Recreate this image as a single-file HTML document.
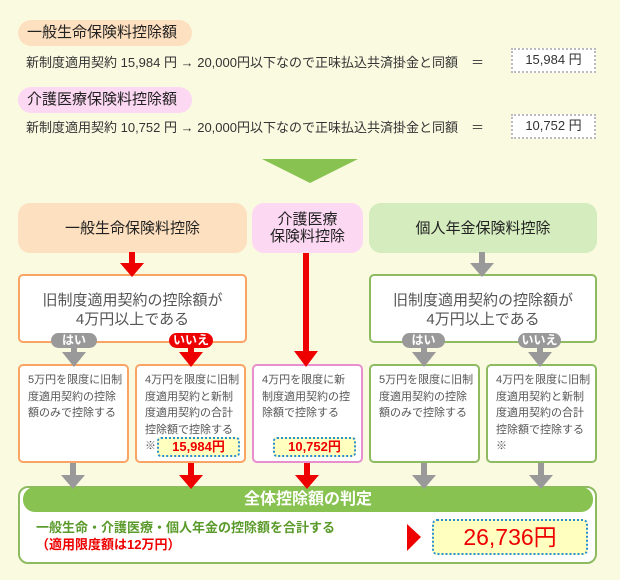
<!DOCTYPE html>
<html><head><meta charset="utf-8"><style>
*{margin:0;padding:0;box-sizing:border-box}
body{width:620px;height:580px;background:#fafae1;position:relative;overflow:hidden;font-family:"Liberation Sans","Noto Sans CJK JP",sans-serif;color:#333}
.a{position:absolute}
.pill{border-radius:13px;font-size:15px;color:#222;padding-left:9px;line-height:26px}
.line{font-size:13px;color:#333;white-space:nowrap}
.vb{background:#fff;border:2px dotted #bbb;font-size:13px;text-align:center;line-height:20px}
.hd{border-radius:12px;font-size:15px;color:#222;text-align:center;display:flex;align-items:center;justify-content:center;line-height:17px}
.q{background:#fff;border:2px solid;border-radius:5px;font-size:15px;color:#555;text-align:center;line-height:19px;padding-top:15px}
.yn{border-radius:8px;color:#fff;font-size:12px;font-weight:bold;text-align:center;line-height:15px}
.bx{background:#fff;border:2px solid;border-radius:5px;font-size:11px;color:#555;line-height:16.5px;padding:6px 0 0 8px}
.val{background:#ffffc0;border:2px dotted #2a8fd0;border-radius:4px;color:#e00;font-weight:bold;font-size:13px;text-align:center;line-height:16px}
</style></head><body>
<div class="a pill" style="left:18px;top:20px;width:174px;height:26px;background:#fde0c0">一般生命保険料控除額</div>
<div class="a line" style="left:26px;top:52px">新制度適用契約 15,984 円 → 20,000円以下なので正味払込共済掛金と同額　＝</div>
<div class="a vb" style="left:511px;top:48px;width:85px;height:25px">15,984 円</div>
<div class="a pill" style="left:18px;top:87px;width:174px;height:26px;background:#fcd8f2">介護医療保険料控除額</div>
<div class="a line" style="left:26px;top:117px">新制度適用契約 10,752 円 → 20,000円以下なので正味払込共済掛金と同額　＝</div>
<div class="a vb" style="left:511px;top:114px;width:85px;height:25px">10,752 円</div>

<div class="a hd" style="left:18px;top:203px;width:229px;height:50px;background:#fde0bf">一般生命保険料控除</div>
<div class="a hd" style="left:252px;top:203px;width:111px;height:50px;background:#fcd8f2">介護医療<br>保険料控除</div>
<div class="a hd" style="left:369px;top:203px;width:228px;height:50px;background:#d4ecbe">個人年金保険料控除</div>

<div class="a q" style="left:18px;top:274px;width:229px;height:69px;border-color:#f9a464">旧制度適用契約の控除額が<br>4万円以上である</div>
<div class="a q" style="left:369px;top:274px;width:228px;height:69px;border-color:#8ebb62">旧制度適用契約の控除額が<br>4万円以上である</div>

<div class="a bx" style="left:18px;top:364px;width:111px;height:99px;border-color:#f9a464">5万円を限度に旧制<br>度適用契約の控除<br>額のみで控除する</div>
<div class="a bx" style="left:135px;top:364px;width:111px;height:99px;border-color:#f9a464">4万円を限度に旧制<br>度適用契約と新制<br>度適用契約の合計<br>控除額で控除する<br>※</div>
<div class="a bx" style="left:252px;top:364px;width:111px;height:99px;border-color:#e88fcf">4万円を限度に新<br>制度適用契約の控<br>除額で控除する</div>
<div class="a bx" style="left:369px;top:364px;width:111px;height:99px;border-color:#8ebb62">5万円を限度に旧制<br>度適用契約の控除<br>額のみで控除する</div>
<div class="a bx" style="left:486px;top:364px;width:111px;height:99px;border-color:#8ebb62">4万円を限度に旧制<br>度適用契約と新制<br>度適用契約の合計<br>控除額で控除する<br>※</div>
<div class="a val" style="left:157px;top:437px;width:83px;height:20px">15,984円</div>
<div class="a val" style="left:273px;top:437px;width:83px;height:20px">10,752円</div>

<div class="a" style="left:18px;top:486px;width:579px;height:78px;background:#fff;border:2px solid #8ebb62;border-radius:10px"></div>
<div class="a" style="left:23px;top:487px;width:570px;height:25px;background:#88c250;border-radius:12px;color:#fff;font-weight:bold;font-size:16px;text-align:center;line-height:25px">全体控除額の判定</div>
<div class="a" style="left:36px;top:519px;font-size:13px;font-weight:bold;color:#5a9a2a;line-height:17px">一般生命・介護医療・個人年金の控除額を合計する<br><span style="color:#e00">（適用限度額は12万円）</span></div>
<div class="a" style="left:432px;top:519px;width:156px;height:36px;background:#ffffc0;border:2px dotted #2a8fd0;border-radius:5px;color:#e00;font-size:23px;text-align:center;line-height:32px">26,736円</div>

<svg class="a" style="left:0;top:0" width="620" height="580">
<polygon points="262,159 358,159 310,183" fill="#88c250"/>
<g fill="#e00">
<rect x="129" y="252" width="6" height="13"/><polygon points="120,263 144,263 132,277"/>
<rect x="303" y="253" width="6" height="100"/><polygon points="294,351 318,351 306,367"/>
<rect x="188" y="345" width="6" height="9"/><polygon points="179,352 203,352 191,367"/>
<rect x="188" y="463" width="6" height="13"/><polygon points="179,475 203,475 191,489"/>
<rect x="304" y="463" width="6" height="13"/><polygon points="295,475 319,475 307,489"/>
<polygon points="407,524 421,537 407,551"/>
</g>
<g fill="#999">
<rect x="479" y="252" width="6" height="13"/><polygon points="470,263 494,263 482,277"/>
<rect x="71" y="345" width="6" height="9"/><polygon points="62,352 86,352 74,367"/>
<rect x="421" y="345" width="6" height="9"/><polygon points="412,352 436,352 424,367"/>
<rect x="537" y="345" width="6" height="9"/><polygon points="528,352 552,352 540,367"/>
<rect x="70" y="463" width="6" height="13"/><polygon points="61,475 85,475 73,489"/>
<rect x="421" y="463" width="6" height="13"/><polygon points="412,475 436,475 424,489"/>
<rect x="538" y="463" width="6" height="13"/><polygon points="529,475 553,475 541,489"/>
</g>
</svg>
<div class="a yn" style="left:51px;top:333px;width:46px;height:15px;background:#999">はい</div>
<div class="a yn" style="left:169px;top:333px;width:44px;height:15px;background:#e00">いいえ</div>
<div class="a yn" style="left:402px;top:333px;width:43px;height:15px;background:#999">はい</div>
<div class="a yn" style="left:518px;top:333px;width:43px;height:15px;background:#999">いいえ</div>
</body></html>
